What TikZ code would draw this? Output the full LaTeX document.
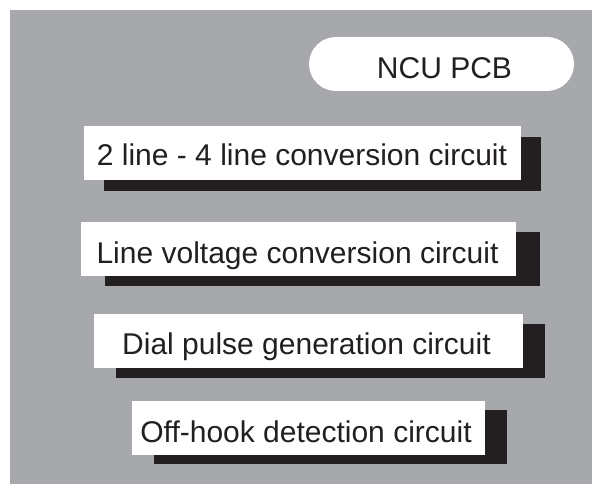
\documentclass[tikz,border=0pt]{standalone}
\usepackage{fontspec}
\setmainfont{Liberation Sans}
\definecolor{bggray}{RGB}{167,168,172}
\definecolor{ink}{RGB}{35,31,32}
\begin{document}
\begin{tikzpicture}[x=1pt,y=-1pt,
  whitebox/.style={fill=white,draw=none,inner sep=0pt,outer sep=0pt,minimum height=54pt},
  shadowbox/.style={fill=ink,draw=none,inner sep=0pt,outer sep=0pt,minimum height=54pt},
  pill/.style={fill=white,draw=none,inner sep=0pt,minimum height=54pt,rounded corners=27pt},
  lbl/.style={anchor=base,font=\fontsize{30}{36}\selectfont,text=ink,inner sep=0pt}]
\useasboundingbox (0,0) rectangle (592,484);
\fill[bggray] (10,10) rectangle (592,484);
% title pill
\node[pill,minimum width=265pt] (pcb) at (441.5,64) {};
\node[lbl] (pcbt) at (444.5,79) {NCU PCB};
% box 1
\node[shadowbox,minimum width=437pt] (s1) at (322.5,164) {};
\node[whitebox,minimum width=437pt] (b1) at (302.5,153) {};
\node[lbl] (t1) at (302,166) {2 line - 4 line conversion circuit};
% box 2
\node[shadowbox,minimum width=435pt] (s2) at (322.5,259) {};
\node[whitebox,minimum width=435pt] (b2) at (298.5,249) {};
\node[lbl] (t2) at (297.5,263.5) {Line voltage conversion circuit};
% box 3
\node[shadowbox,minimum width=429pt] (s3) at (330.5,351) {};
\node[whitebox,minimum width=429pt] (b3) at (308.5,341) {};
\node[lbl] (t3) at (306.5,354) {Dial pulse generation circuit};
% box 4
\node[shadowbox,minimum width=353pt] (s4) at (330.5,437) {};
\node[whitebox,minimum width=353pt] (b4) at (308.5,428) {};
\node[lbl] (t4) at (306,442) {Off-hook detection circuit};
\end{tikzpicture}
\end{document}
